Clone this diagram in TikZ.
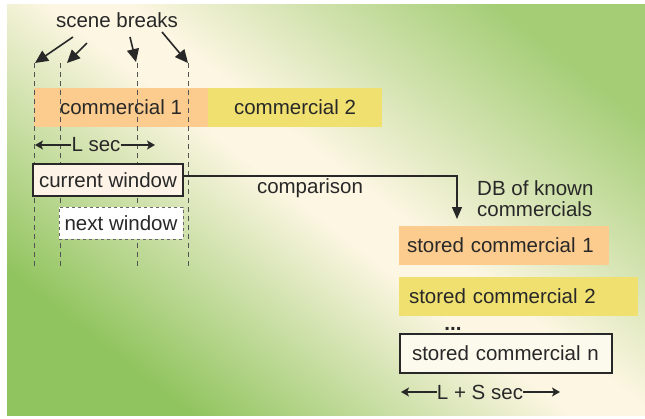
\documentclass[tikz,border=0pt]{standalone}
\usepackage{fontspec}
\setmainfont{Liberation Sans}
\usetikzlibrary{arrows.meta,calc}
\definecolor{gA}{RGB}{144,196,94}
\definecolor{cr}{RGB}{252,246,226}
\definecolor{gB}{RGB}{164,205,118}
\definecolor{orng}{RGB}{252,204,142}
\definecolor{yel}{RGB}{240,224,112}
\definecolor{txt}{RGB}{40,40,40}
\definecolor{edge}{RGB}{40,40,40}
\definecolor{cwfill}{RGB}{253,243,230}
\definecolor{scnfill}{RGB}{252,250,236}
\pgfdeclarehorizontalshading{bgshade}{100bp}{color(0bp)=(gA); color(26bp)=(gA); color(49bp)=(cr); color(54bp)=(cr); color(76bp)=(gB); color(100bp)=(gB)}
\begin{document}
\begin{tikzpicture}[x=1pt,y=-1pt,
  every node/.style={font=\fontsize{20.5}{21}\selectfont, text=txt},
  bar/.style={inner sep=0pt, minimum height=39pt},
  framed/.style={draw=edge, line width=1.5pt, inner sep=0pt},
  scenearrow/.style={draw=edge, line width=1.6pt, -{Triangle[length=13pt,width=12pt]}},
  dimarrow/.style={draw=edge, line width=1.4pt, -{Stealth[length=8pt,width=9pt,inset=2pt]}},
  breakline/.style={draw=edge!80, line width=0.8pt, dash pattern=on 5pt off 4pt}]
\fill[white] (0,0) rectangle (645,418);
\useasboundingbox (0,0) rectangle (645,418);
\path[shading=bgshade, shading angle=52] (7,4) rectangle (645,415);

% commercials bar
\node[bar, fill=orng, minimum width=174pt] (com1) at (121,107.5) {commercial 1};
\node[bar, fill=yel, minimum width=174pt] (com2) at (295,107.5) {commercial 2};

% scene break lines
\foreach \x/\n in {34/a,60/b,137/c,188/d}{
  \coordinate (t\n) at (\x,63);
  \coordinate (b\n) at (\x,268);
  \draw[breakline] (t\n) -- (b\n);
}

% scene breaks label and arrows
\node (sb) at (117,20) {scene breaks};
\coordinate (s1) at (73,37);
\coordinate (s2) at (87,43);
\coordinate (s3) at (130,37);
\coordinate (s4) at (162,32);
\draw[scenearrow] (s1) -- (35,63);
\draw[scenearrow] (s2) -- (67,63);
\draw[scenearrow] (s3) -- (136,62);
\draw[scenearrow] (s4) -- (188,63);

% L sec
\node[inner sep=0pt] (lsec) at (96,145) {L sec};
\coordinate (lsl) at (35,145);
\coordinate (lsr) at (155,145);
\draw[dimarrow] (lsec.west) -- (lsl);
\draw[dimarrow] (lsec.east) -- (lsr);

% windows
\node[framed, fill=cwfill, minimum width=150pt, minimum height=32pt] (cw) at (108,180) {current window};
\node[draw=edge!70, dashed, line width=0.8pt, fill=white, inner sep=0pt, minimum width=124pt, minimum height=32pt] (nw) at (121,223) {next window};

% DB side
\node[bar, fill=orng, minimum width=210pt, text width=194pt, inner xsep=8pt, align=left] (sc1) at (504,245.5) {stored commercial 1};
\node[bar, fill=yel, minimum width=239pt, text width=219pt, inner xsep=10pt, align=left] (sc2) at (518.5,296.5) {stored commercial 2};
\node[inner sep=0pt, anchor=base] (dots) at (453,330) {\bfseries ...};
\node[framed, fill=scnfill, minimum width=212pt, minimum height=39pt, text width=188pt, inner xsep=12pt, align=left] (scn) at (506,353.5) {stored commercial n};

\node[align=left, anchor=west, inner sep=0pt] (db) at (477,198.5) {DB of known\\commercials};
\node[inner sep=0pt] (cmp) at (310,188) {comparison};

\coordinate (tip) at (457,226);
\draw[draw=edge, line width=1.2pt, -{Triangle[length=12pt,width=10pt]}, shorten >=7pt] ([yshift=4pt]cw.east) -| (tip);

% L + S sec
\node[inner sep=0pt] (lssec) at (480,392) {L + S sec};
\coordinate (lssl) at (401,392);
\coordinate (lssr) at (560,392);
\draw[dimarrow] (lssec.west) -- (lssl);
\draw[dimarrow] (lssec.east) -- (lssr);
\end{tikzpicture}
\end{document}
